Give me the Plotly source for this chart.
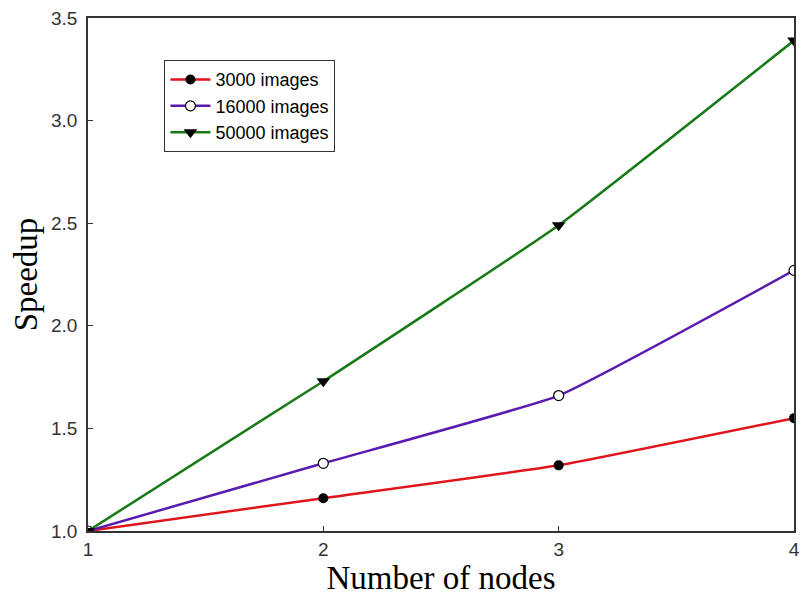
import plotly.graph_objects as go

nodes = [1, 2, 3, 4]
speedup_3000 = [1.0, 1.16, 1.32, 1.55]
speedup_16000 = [1.0, 1.33, 1.66, 2.27]
speedup_50000 = [1.0, 1.73, 2.49, 3.39]

series = [
    ("3000 images", speedup_3000, "#e0141c", dict(symbol="circle", color="black", size=10)),
    ("16000 images", speedup_16000, "#5a1ab0", dict(symbol="circle", color="white", size=10,
                                                   line=dict(color="black", width=1.2))),
    ("50000 images", speedup_50000, "#177a17", dict(symbol="triangle-down", color="black", size=12)),
]

fig = go.Figure()
for name, ys, color, marker in series:
    fig.add_trace(go.Scatter(
        x=nodes, y=ys, name=name, mode="lines+markers",
        line=dict(color=color, width=2.5, shape="spline", smoothing=0.35),
        marker=marker,
    ))

axis_common = dict(
    showgrid=False, zeroline=False, showline=True, linecolor="#333", linewidth=1.5,
    mirror=True, ticks="inside", ticklen=5, tickcolor="#333", tickwidth=1,
    tickfont=dict(family="Liberation Sans, Arial", size=19, color="#333"),
    ticklabeloverflow="allow",
)

title_font = dict(family="Liberation Serif, Times New Roman", size=33, color="black")

fig.update_layout(
    width=802, height=598,
    margin=dict(l=88, r=2, t=18, b=67),
    paper_bgcolor="white", plot_bgcolor="white",
    xaxis=dict(range=[1, 4], tickvals=[1, 2, 3, 4], ticktext=["1", "2", "3", "4"],
               title=dict(text="Number of nodes", standoff=0, font=title_font),
               **axis_common),
    yaxis=dict(range=[1.0, 3.5], tickvals=[1.0, 1.5, 2.0, 2.5, 3.0, 3.5],
               ticktext=["1.0", "1.5", "2.0", "2.5", "3.0", "3.5"],
               ticklabelstandoff=5,
               title=dict(text="Speedup", standoff=3, font=title_font),
               **axis_common),
    legend=dict(x=0.108, y=0.918, xanchor="left", yanchor="top",
                bordercolor="#333", borderwidth=1.2, bgcolor="white",
                font=dict(family="Liberation Sans, Arial", size=18, color="black"),
                tracegroupgap=0, itemwidth=40),
    showlegend=True,
)

fig.write_html("out.html")
